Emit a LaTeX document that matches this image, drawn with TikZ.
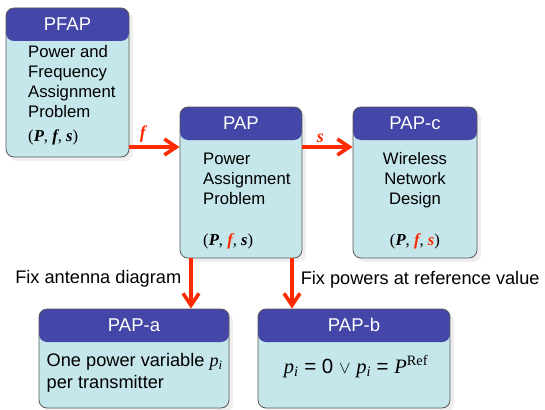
\documentclass[tikz,border=0pt]{standalone}
\usepackage{fontspec}
\setmainfont{Liberation Sans}
\newfontfamily\tms{Liberation Serif}
\usetikzlibrary{arrows.meta, shadows}

\definecolor{headblue}{HTML}{4446A8}
\definecolor{bodycyan}{HTML}{C5E6EA}
\definecolor{flowred}{HTML}{FF2A00}

% bold italic serif symbol and the (P, f, s) triple
\newcommand{\bv}[1]{{\tms\bfseries\itshape #1}}
\newcommand{\triple}[2]{{\tms(\bv{P}, \textcolor{#1}{\bv{f}}, \textcolor{#2}{\bv{s}})}}

\begin{document}
\begin{tikzpicture}[
  x=1pt, y=-1pt,
  box/.style={draw=black!65, line width=0.8pt, fill=bodycyan, rounded corners=8pt, inner sep=0pt,
    drop shadow={shadow xshift=4pt, shadow yshift=-4pt, fill=black!12},
    path picture={\fill[headblue] (path picture bounding box.north west) rectangle
      ([yshift=-33pt]path picture bounding box.north east);}},
  head/.style={text=white, font=\fontsize{18.5}{22}\selectfont, inner sep=0pt},
  body/.style={font=\fontsize{16.7}{20}\selectfont, inner sep=0pt},
  big/.style={font=\fontsize{18.2}{22}\selectfont, inner sep=0pt},
  flow/.style={draw=flowred, line width=3.6pt, -{Straight Barb[length=12pt, width=16pt]}},
  flowlbl/.style={font=\fontsize{18}{20}\selectfont, text=flowred, inner sep=0pt}
]
\useasboundingbox (0,0) rectangle (545,409);

% Top row of problem boxes
\node[box, minimum width=123pt, minimum height=149pt] (pfap) at (67.5,82.5) {};
\node[box, minimum width=122pt, minimum height=151pt] (pap)  at (241,182.5) {};
\node[box, minimum width=124pt, minimum height=151pt] (papc) at (415,182.5) {};

% Bottom row
\node[box, minimum width=190pt, minimum height=99pt] (papa) at (134,358.5) {};
\node[box, minimum width=192pt, minimum height=99pt] (papb) at (354,358.5) {};

% Headers
\node[head] (pfaphd) at ([yshift=-16.5pt]pfap.north) {PFAP};
\node[head] (paphd)  at ([yshift=-16.5pt]pap.north)  {PAP};
\node[head] (papchd) at ([yshift=-16.5pt]papc.north) {PAP-c};
\node[head] (papahd) at ([yshift=-16.5pt]papa.north) {PAP-a};
\node[head] (papbhd) at ([yshift=-16.5pt]papb.north) {PAP-b};

% Box contents
\node[body, align=left, anchor=north west] (pfaptxt) at (28,45.5)
  {Power and\\Frequency\\Assignment\\Problem};
\node[body, anchor=base west] (pfaptri) at (28,141.7) {\triple{black}{black}};
\node[body, align=left, anchor=north west] (paptxt) at (203,152.5)
  {Power\\Assignment\\Problem};
\node[body, anchor=base west] (paptri) at (203,245) {\triple{flowred}{black}};
\node[body, align=center, anchor=north] (papctxt) at (415,152.5)
  {Wireless\\Network\\Design};
\node[body, anchor=base] (papctri) at (415,245) {\triple{flowred}{flowred}};
\node[big, align=left, anchor=north west] (papatxt) at (46.5,353.5)
  {One power variable {\tms\itshape p\textsubscript{i}}\\per transmitter};
\node[big, anchor=base, font=\fontsize{20.5}{24}\selectfont] (papbtxt) at (356,373)
  {{\tms\itshape p\textsubscript{i}} = 0 {\fontsize{16}{16}\selectfont$\vee$} {\tms\itshape p\textsubscript{i}} = {\tms\itshape P\textsuperscript{\upshape Ref}}};

% Connectors
\draw[flow] (pfap.east |- 0,147) -- node[flowlbl, pos=0.27, above=3pt] (flbl) {\bv{f}} (pap.west |- 0,147);
\draw[flow] (pap.east |- 0,147) -- node[flowlbl, pos=0.36, above=3pt] (slbl) {\bv{s}} (papc.west |- 0,147);
\draw[flow] (pap.south -| 191,0) -- node[big, pos=0.4, left=8pt] (fixa) {Fix antenna diagram} (papa.north -| 191,0);
\draw[flow] (pap.south -| 292,0) -- node[big, pos=0.42, right=7pt] (fixb) {Fix powers at reference value} (papb.north -| 292,0);

\end{tikzpicture}
\end{document}
